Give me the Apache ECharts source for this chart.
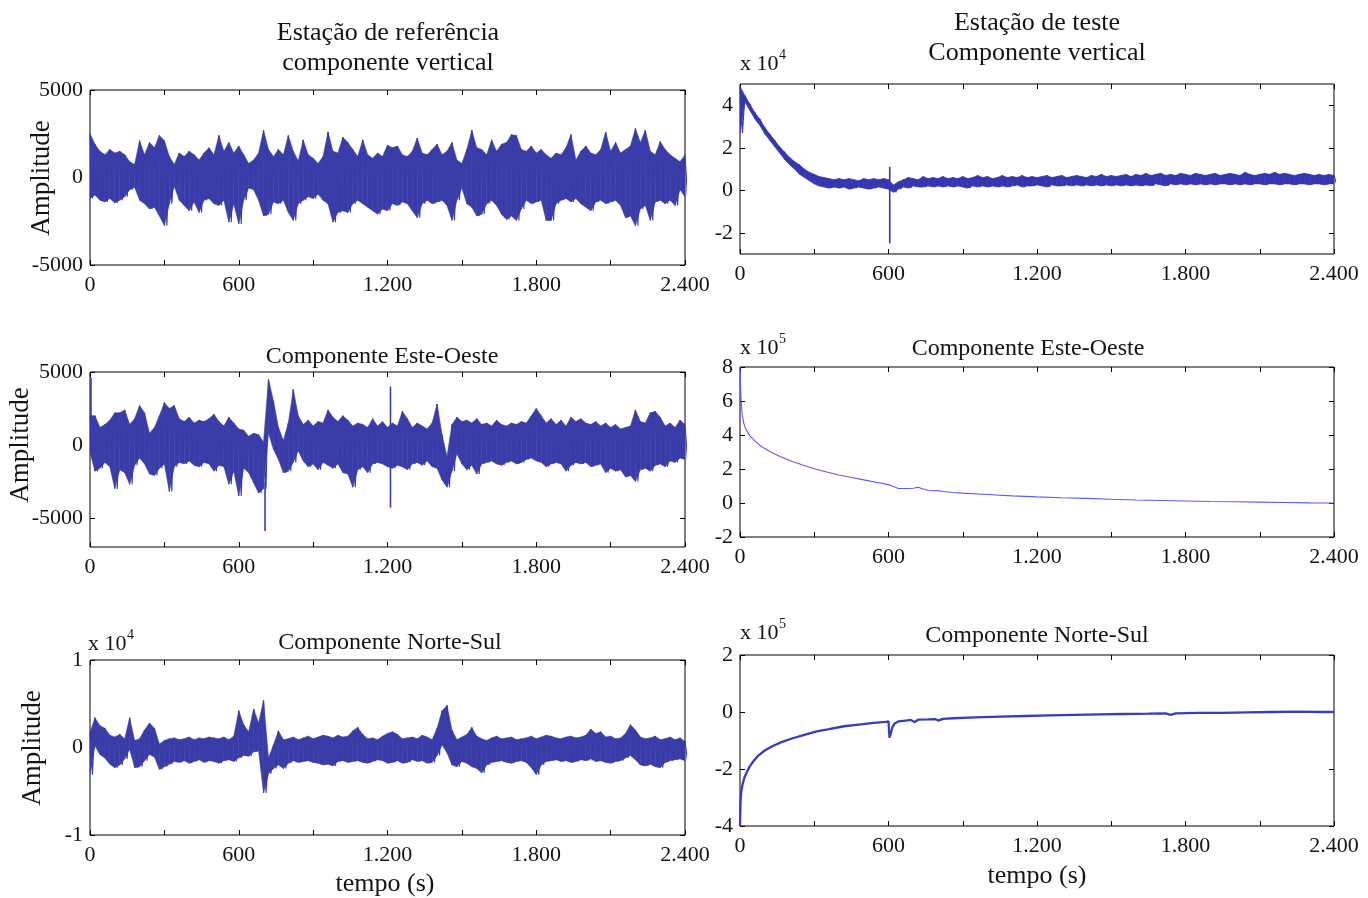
<!DOCTYPE html>
<html><head><meta charset="utf-8">
<script src="https://cdn.jsdelivr.net/npm/echarts@6/dist/echarts.min.js"></script>
<style>html,body{margin:0;padding:0;background:#fff}#c{width:1368px;height:898px}</style>
</head><body><div id="c"></div><script>
// ---------- DATA ----------
// Noisy traces: upper / lower envelope per 20 s bin (t = 0, 20, ..., 2400)
const BIN_STEP = 20;
const X_TICK_LABELS = ['0', '600', '1.200', '1.800', '2.400'];

// Estação de referência - componente vertical
const VR_HI = [2500,1900,1500,1300,1600,1400,1500,1300,900,750,
 2100,1300,2000,1700,2400,2100,1200,750,1400,1200,
 1500,1300,1000,1400,1700,1300,2400,1500,2000,1400,
 1800,1300,800,1000,1400,2700,1600,1200,1600,1300,
 2400,1500,950,2150,1300,1100,800,1200,2600,1500,
 1400,2300,2000,1600,1200,2150,1300,1100,1400,1200,
 1850,1700,1800,1300,1200,1500,2250,1400,1300,1600,
 1900,1300,1500,2000,1000,800,1600,2700,1700,1600,
 1300,2150,1500,1900,2000,2450,2400,1600,1500,1800,
 1400,1600,1300,1100,1400,1300,1700,2450,1000,1500,
 1800,1400,1300,1600,2600,1500,2000,1400,1600,1800,
 2800,2000,2700,1500,1300,2050,1600,1300,1100,900,
 1300];
const VR_LO = [-1200,-1000,-1300,-1400,-1200,-1450,-1300,-1100,-700,-550,
 -1300,-1500,-1800,-1700,-2200,-2750,-1500,-500,-1300,-1600,
 -1900,-1400,-2000,-1300,-1200,-1500,-1600,-1300,-2550,-1500,
 -2650,-1300,-600,-700,-1300,-2200,-2100,-1400,-1500,-1300,
 -2000,-2450,-1500,-1300,-1100,-1200,-950,-1300,-1500,-2550,
 -2000,-1900,-2000,-1500,-1300,-1500,-1700,-1900,-2100,-1800,
 -1900,-1500,-1600,-1400,-1500,-1900,-2300,-1500,-1300,-1500,
 -1400,-1300,-1600,-2450,-1300,-600,-1500,-1700,-2200,-2100,
 -1500,-1300,-1600,-2100,-2400,-2200,-2450,-1800,-1300,-1500,
 -1400,-1300,-2450,-2450,-1500,-1300,-1200,-1400,-1200,-1500,
 -1700,-1900,-1400,-1300,-1500,-1400,-1300,-1600,-2300,-2200,
 -2750,-1800,-1600,-2450,-1400,-1300,-1500,-1300,-1600,-700,
 -1100];

// Estação de referência - componente Este-Oeste
const EWR_HI = [2000,2000,1200,1400,1700,2200,2200,2400,1400,1800,
 2700,2200,800,1200,2000,2900,2500,2700,1800,1600,
 1900,1500,1700,1600,1800,2100,1600,1300,1900,1500,
 1100,1000,600,800,700,200,4500,3000,1200,300,
 1500,3800,2000,1400,1700,1300,1600,1500,2400,1900,
 1600,2000,1700,1300,1500,1400,1200,1800,1300,1600,
 1200,1500,1300,2300,1800,1200,1500,1300,1100,1500,
 2800,700,-800,1400,1900,1600,1700,1500,1800,1400,
 1500,1300,1700,1400,1300,1500,1400,1600,1500,2000,
 2500,2000,1500,1800,1400,1700,1300,1900,1600,1800,
 1500,1400,1600,1300,1500,1200,1400,1100,1200,1300,
 2400,1600,1500,2200,2300,1900,1300,1500,1200,1700,
 1400];
const EWR_LO = [-500,-1800,-1600,-1200,-1500,-3000,-1700,-1900,-2700,-1400,
 -900,-1300,-2000,-2100,-1600,-1300,-3200,-1500,-1200,-1300,
 -1100,-1400,-1500,-1200,-1300,-1800,-1400,-1500,-2700,-1800,
 -3500,-1600,-1900,-2600,-3300,-3000,800,-300,-1000,-1900,
 -1800,-1200,-400,-1100,-1500,-1300,-1700,-1200,-1400,-1600,
 -1300,-1900,-2000,-2900,-1700,-1500,-1900,-1300,-1200,-1300,
 -1500,-1600,-1400,-1500,-1700,-1300,-1200,-1400,-1100,-1500,
 -1600,-2400,-2900,-1800,-600,-1300,-1700,-1400,-2000,-1300,
 -1200,-1100,-1300,-1400,-1200,-1100,-1300,-1200,-1000,-900,
 -1100,-1200,-1500,-1300,-1200,-1300,-1800,-1400,-1200,-1300,
 -1200,-1500,-1400,-1300,-1900,-1600,-1800,-1700,-2200,-2100,
 -2500,-1700,-1600,-1800,-1400,-1300,-1500,-1100,-1200,-900,
 -1000];
// isolated thin spikes: [time, from, to]
const EWR_SPIKES = [[4, -500, 4600], [706, -2500, -5900], [1212, 4000, -4300]];

// Estação de referência - componente Norte-Sul
const NSR_HI = [1700,3400,2500,2200,1400,1200,1500,1000,3400,800,
 1000,2000,2800,2200,400,800,1000,1100,900,1000,
 1200,900,1100,1000,1200,1100,1000,1200,900,1300,
 4200,2600,1800,4400,2800,5400,-1200,300,1900,900,
 1000,1200,900,1100,1300,1000,1200,1400,1300,1100,
 1400,1200,1300,1900,2300,1500,1000,1100,900,1300,
 1600,1800,1500,1000,1100,1200,1000,1400,1200,900,
 2200,4200,4800,2000,900,1200,1500,2300,1300,1000,
 800,1100,1300,1000,1100,1200,900,1000,1100,1300,
 1000,1200,1400,1300,1100,1000,1200,1300,1100,1200,
 1400,2100,1600,1800,1200,1300,1000,1100,1600,2600,
 2000,1200,1000,1100,1300,900,1000,1200,900,1100,
 700];
const NSR_LO = [-3100,200,-800,-1200,-1900,-2300,-2000,-1300,-200,-2300,
 -2200,-1500,-800,-1100,-2500,-2200,-1900,-1600,-1700,-1500,
 -1800,-1600,-1400,-1700,-1500,-1600,-1800,-1500,-1400,-1600,
 -1200,-900,-1000,-500,-400,-5200,-3000,-2400,-2000,-2400,
 -1800,-1500,-1700,-1600,-1500,-1700,-1800,-2000,-1900,-2100,
 -1600,-1500,-1700,-1600,-1500,-1700,-1800,-1600,-1400,-1500,
 -1800,-1700,-1500,-1800,-1700,-1400,-1600,-1500,-1800,-1700,
 -900,300,-600,-2000,-2200,-1600,-1800,-2200,-2400,-2900,
 -2000,-1700,-1600,-1500,-1700,-1800,-1600,-1500,-1700,-2300,
 -3100,-2000,-1600,-1500,-1400,-1600,-1500,-1700,-1600,-1400,
 -1500,-1300,-1600,-1500,-1700,-1800,-1600,-1500,-1200,-900,
 -1400,-2000,-2100,-1900,-2200,-2300,-1700,-1500,-1400,-1300,
 -1500];

// Estação de teste - componente vertical
const VT_HI = [49000,44500,40500,36500,33500,29500,26500,23500,20500,18000,
 15500,13500,12000,10000,8500,7500,6500,6000,5500,5000,
 5500,5000,5500,5000,4500,5500,5000,5500,5000,5500,
 5000,2500,4000,5000,6000,5500,5000,6500,5500,6000,
 5500,6500,5500,6000,5500,6500,5500,6000,7000,6000,
 6500,5500,6000,7000,6000,6500,6000,7000,6000,6500,
 6000,6500,7000,6000,6500,7000,6000,6500,7000,6500,
 6000,7000,6500,7500,6500,7000,6500,7000,7500,6500,
 7500,7000,8000,7000,7500,8000,7000,7500,7000,8000,
 7500,7000,8000,7500,7000,7500,8000,7000,7500,8000,
 7500,7000,8500,7500,7000,7500,8000,7500,8500,7500,
 8000,7500,7000,7500,8000,7500,7000,7500,7000,7500,
 7000];
const VT_LO = [27000,41500,37500,33500,30500,26500,23500,20500,17500,14500,
 12000,10000,7500,6000,4500,3000,2000,1500,1000,1500,
 1000,1500,500,1000,1500,1000,500,1000,1500,1000,
 500,-1000,500,1500,1000,2000,1500,1500,2000,1500,
 2000,1500,2000,1500,2000,1500,1000,2000,1500,2000,
 1500,2000,1500,2000,1500,2000,2500,1500,2000,2000,
 2500,2000,1500,2500,2000,2000,2500,2000,2500,2000,
 2500,2000,2500,2000,2500,2000,2500,2000,2500,2000,
 2500,2000,2500,2000,3000,2500,2000,3000,2500,3000,
 2500,3000,2500,3000,2500,3000,2500,3000,3000,2500,
 3000,2500,3000,2500,3000,3000,2500,3000,3000,2500,
 3000,3000,2500,3000,3000,2500,3000,3000,2500,3000,
 3000];
const VT_SPIKES = [[605, 11000, -25000]];

// Estação de teste - componente Este-Oeste (smooth trace)
const EWT_T = [0,3,8,15,25,40,60,80,100,130,160,200,250,300,350,400,450,500,550,600,
 605,612,620,640,680,700,720,740,760,780,800,820,860,900,1000,1100,1200,1300,1400,1500,
 1600,1700,1800,1900,2000,2100,2200,2300,2400];
const EWT_V = [800000,650000,530000,470000,430000,395000,365000,340000,320000,295000,
 275000,250000,225000,202000,182000,165000,150000,136000,122000,108000,
 110000,102000,92000,85000,85000,87000,93000,82000,75000,72000,
 73000,68000,62000,58000,50000,42000,36000,31000,27000,22000,
 18000,15000,12000,9000,7000,5000,3000,1000,0];

// Estação de teste - componente Norte-Sul (smooth trace)
const NST_T = [0,2,5,10,18,28,40,55,75,100,130,170,210,260,310,360,420,480,540,590,
 600,604,608,615,625,640,670,690,705,720,760,790,800,820,860,950,1050,1150,1250,1350,
 1450,1550,1650,1720,1740,1760,1850,1950,2050,2150,2250,2350,2400];
const NST_V = [-400000,-320000,-280000,-255000,-230000,-210000,-190000,-172000,-152000,-135000,
 -120000,-105000,-93000,-80000,-68000,-60000,-50000,-44000,-38000,-35000,
 -33000,-90000,-80000,-55000,-40000,-33000,-30000,-28000,-35000,-27000,
 -26000,-25000,-30000,-24000,-22000,-19000,-16000,-14000,-12000,-10000,
 -8000,-7000,-6000,-5000,-10000,-5000,-3000,-3000,-1000,0,1000,0,0];

// Y tick values per panel
const Y_TICKS_VR = [-5000, 0, 5000];
const Y_TICKS_EWR = [-5000, 0, 5000];
const Y_TICKS_NSR = [-10000, 0, 10000];
const Y_TICKS_VT = [-20000, 0, 20000, 40000];
const Y_TICKS_EWT = [-200000, 0, 200000, 400000, 600000, 800000];
const Y_TICKS_NST = [-400000, -200000, 0, 200000];

// ---------- LAYOUT / STYLE ----------
const FONT = '"Liberation Serif", "DejaVu Serif", serif';
const TXT = '#141414';
const panels = [
  {grid:{left:90, top:90, width:595, height:175}, ymin:-5000, ymax:5000, ticks:Y_TICKS_VR, scale:1},
  {grid:{left:740, top:84, width:594, height:170}, ymin:-30000, ymax:50000, ticks:Y_TICKS_VT, scale:1e4},
  {grid:{left:90, top:372, width:595, height:175}, ymin:-7000, ymax:5000, ticks:Y_TICKS_EWR, scale:1},
  {grid:{left:740, top:367, width:594, height:170}, ymin:-200000, ymax:800000, ticks:Y_TICKS_EWT, scale:1e5},
  {grid:{left:90, top:660, width:595, height:175}, ymin:-10000, ymax:10000, ticks:Y_TICKS_NSR, scale:1e4},
  {grid:{left:740, top:655, width:594, height:171}, ymin:-400000, ymax:200000, ticks:Y_TICKS_NST, scale:1e5}
];

function zigzag(hi, lo) {
  const out = [];
  for (let i = 0; i < hi.length; i++) {
    out.push([i * BIN_STEP, hi[i]]);
    out.push([i * BIN_STEP + BIN_STEP / 2, lo[i]]);
  }
  return out;
}
function pairs(t, v) { return t.map((x, i) => [x, v[i]]); }

function xLabel(v) {
  if (v % 600 !== 0) return '';
  return X_TICK_LABELS[v / 600];
}

const grid = [], xAxis = [], yAxis = [];
panels.forEach((p, i) => {
  grid.push(Object.assign({show:true, borderColor:'#000', borderWidth:1, backgroundColor:'#fff'}, p.grid));
  const xBase = {type:'value', gridIndex:i, min:0, max:2400, interval:300,
    axisLine:{show:false, onZero:false}, splitLine:{show:false},
    axisTick:{show:true, inside:true, length:5, lineStyle:{color:'#000', width:1}}};
  xAxis.push(Object.assign({}, xBase, {position:'bottom',
    axisLabel:{show:true, formatter:xLabel, fontFamily:FONT, fontSize:22, color:TXT, margin:9, showMinLabel:true, showMaxLabel:true}}));
  xAxis.push(Object.assign({}, xBase, {position:'top', axisLabel:{show:false}}));
  const yBase = {type:'value', gridIndex:i, min:p.ymin, max:p.ymax,
    axisLine:{show:false, onZero:false}, splitLine:{show:false},
    axisTick:{show:true, inside:true, length:5, customValues:p.ticks, lineStyle:{color:'#000', width:1}}};
  yAxis.push(Object.assign({}, yBase, {position:'left',
    axisLabel:{show:true, customValues:p.ticks, formatter:v => String(Math.round(v / p.scale * 100) / 100),
      fontFamily:FONT, fontSize:22, color:TXT, margin:7}}));
  yAxis.push(Object.assign({}, yBase, {position:'right', axisLabel:{show:false}}));
});

const NOISE_COLOR = '#3a3ca8';
// Band between the upper and lower envelope, drawn as quads through the axes' coord()
function noisyBand(idx, hi, lo, color, spikes) {
  const c = color || NOISE_COLOR;
  const quads = [];
  for (let i = 0; i < hi.length - 1; i++) {
    quads.push([i * BIN_STEP, hi[i], lo[i], (i + 1) * BIN_STEP, hi[i + 1], lo[i + 1]]);
  }
  const out = [
    {type:'custom', xAxisIndex:idx*2, yAxisIndex:idx*2, data:quads, animation:false, silent:true, clip:true,
      encode:{x:[0, 3], y:[1, 2, 4, 5]},
      renderItem:function (params, api) {
        const a = api.coord([api.value(0), api.value(1)]);
        const b = api.coord([api.value(3), api.value(4)]);
        const d = api.coord([api.value(3), api.value(5)]);
        const e = api.coord([api.value(0), api.value(2)]);
        return {type:'polygon', shape:{points:[a, b, d, e]},
          style:{fill:c, stroke:c, lineWidth:0.6}};
      }},
    {type:'line', xAxisIndex:idx*2, yAxisIndex:idx*2, data:zigzag(hi, lo), showSymbol:false, symbol:'none',
      lineStyle:{color:c, width:1.1}, animation:false, silent:true}
  ];
  if (spikes) {
    out.push({type:'custom', xAxisIndex:idx*2, yAxisIndex:idx*2, data:spikes, animation:false, silent:true, clip:true,
      encode:{x:0, y:[1, 2]},
      renderItem:function (params, api) {
        const a = api.coord([api.value(0), api.value(1)]);
        const b = api.coord([api.value(0), api.value(2)]);
        return {type:'line', shape:{x1:a[0], y1:a[1], x2:b[0], y2:b[1]}, style:{stroke:c, lineWidth:1.6}};
      }});
  }
  return out;
}
const series = [].concat(
  noisyBand(0, VR_HI, VR_LO),
  noisyBand(1, VT_HI, VT_LO, '#3536b0', VT_SPIKES),
  noisyBand(2, EWR_HI, EWR_LO, null, EWR_SPIKES),
  [{type:'line', xAxisIndex:6, yAxisIndex:6, data:pairs(EWT_T, EWT_V), showSymbol:false, symbol:'none',
    lineStyle:{color:'#5b5cf2', width:1.1}, animation:false, silent:true}],
  noisyBand(4, NSR_HI, NSR_LO),
  [{type:'line', xAxisIndex:10, yAxisIndex:10, data:pairs(NST_T, NST_V), showSymbol:false, symbol:'none',
    lineStyle:{color:'#3a3cc0', width:2.3}, animation:false, silent:true}]
);

function txt(x, y, s, size, rot) {
  const el = {type:'text', x:x, y:y, silent:true,
    style:{text:s, font:size + 'px ' + FONT, fill:TXT, align:'center', verticalAlign:'middle'}};
  if (rot) el.rotation = rot;
  return el;
}
function mult(x, y, exp) {
  return [
    {type:'text', x:x, y:y, silent:true, style:{text:'x 10', font:'22px ' + FONT, fill:TXT, align:'left', verticalAlign:'middle'}},
    {type:'text', x:x + 39, y:y - 9, silent:true, style:{text:exp, font:'14px ' + FONT, fill:TXT, align:'left', verticalAlign:'middle'}}
  ];
}
const graphic = [
  txt(388, 33, 'Estação de referência', 26),
  txt(388, 63, 'componente vertical', 26),
  txt(1037, 23, 'Estação de teste', 26),
  txt(1037, 53, 'Componente vertical', 26),
  txt(382, 357, 'Componente Este-Oeste', 24),
  txt(1028, 349, 'Componente Este-Oeste', 24),
  txt(390, 643, 'Componente Norte-Sul', 24),
  txt(1037, 636, 'Componente Norte-Sul', 24),
  txt(42, 178, 'Amplitude', 27, Math.PI/2),
  txt(21, 445, 'Amplitude', 27, Math.PI/2),
  txt(33, 748, 'Amplitude', 27, Math.PI/2),
  txt(385, 884, 'tempo (s)', 26),
  txt(1037, 876, 'tempo (s)', 26)
].concat(mult(740, 64, '4'), mult(740, 348, '5'), mult(88, 644, '4'), mult(740, 633, '5'));

const chart = echarts.init(document.getElementById('c'), null, {renderer:'canvas'});
chart.setOption({animation:false, backgroundColor:'#fff', grid, xAxis, yAxis, series, graphic});
</script></body></html>
